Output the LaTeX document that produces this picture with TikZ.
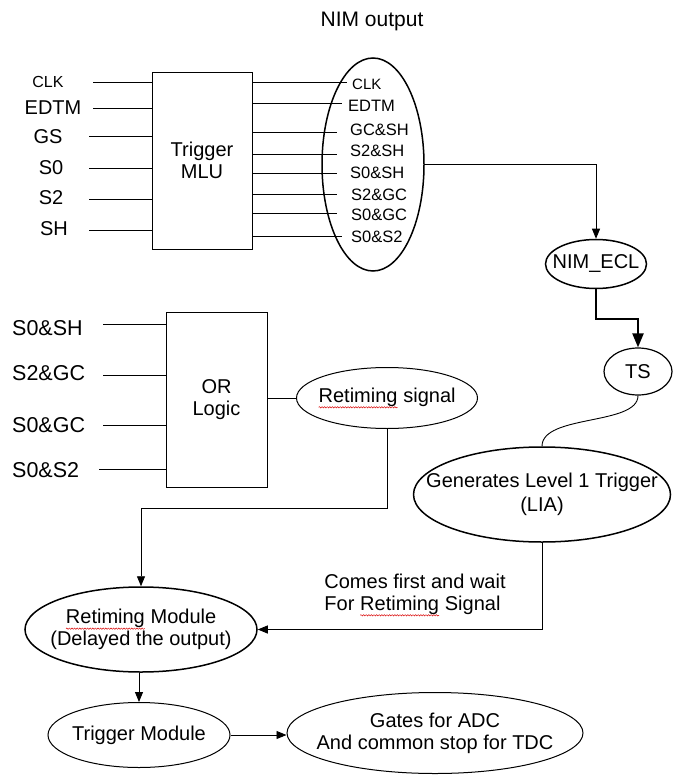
\documentclass[tikz,border=0pt]{standalone}
\usepackage{fontspec}
\setmainfont{Liberation Sans}
\usetikzlibrary{positioning, arrows.meta, shapes.geometric, decorations.pathmorphing}

% red wavy spell-check mark under a word
\newcommand{\wavy}[1]{\tikz[baseline=(w.base)]{\node[shape=rectangle, draw=none, inner sep=0pt, outer sep=0pt, minimum size=0pt] (w) {#1};\draw[red!85!black, line width=0.45pt, decorate, decoration={snake, amplitude=0.7pt, segment length=2.6pt}] ([yshift=-5pt]w.base west) -- ([yshift=-5pt]w.base east);}}

\begin{document}
\begin{tikzpicture}[
    x=1pt, y=-1pt,
    font=\fontsize{20}{22}\selectfont,
    block/.style={rectangle, draw=black, line width=0.9pt, inner sep=0pt},
    oval/.style={ellipse, draw=black, line width=1.5pt, inner sep=0pt},
    thinoval/.style={ellipse, draw=black, line width=1pt, inner sep=0pt},
    txt/.style={inner sep=0pt, align=center},
    outlbl/.style={inner sep=0pt, anchor=west, font=\fontsize{16.5}{19}\selectfont},
    wire/.style={draw=black, line width=0.9pt},
    sig_edge/.style={->, >={Triangle[length=10pt, width=8pt]}, line width=0.9pt, draw=black},
    ecl_edge/.style={->, >={Triangle[length=14pt, width=11pt]}, line width=2.2pt, draw=black}
]
\fill[white] (0,0) rectangle (672,775);
\useasboundingbox (0,0) rectangle (672,775);

\node[txt, font=\fontsize{21}{24}\selectfont] (nimtitle) at (372,21) {NIM output};

% Trigger MLU and its inputs
\node[block, minimum width=100pt, minimum height=177pt] (mlu) at (202,160.5) {};
\node[txt] (mlutext) at (mlu) {Trigger\\MLU};
\foreach \lx/\ty/\sx/\ly/\nm/\txt in {48/82/93/82/iclk/{\fontsize{16}{19}\selectfont CLK}, 53/108/93/108/iedtm/EDTM, 48/137/89/136/igs/GS, 51/168/89/168/iszero/S0, 51/198/89/199/istwo/S2, 54/229/89/230/ish/SH}
{
  \node[txt] (\nm) at (\lx,\ty) {\txt};
  \coordinate (\nm start) at (\sx,\ly);
  \draw[wire] (\nm start) -- (mlu.west |- \nm start);
}

% NIM outputs
\node[oval, minimum width=102pt, minimum height=213pt] (nimout) at (373,164.5) {};
\foreach \ly/\ty/\tx/\ex/\nm/\txt in {82/84/352/347/oclk/{\fontsize{15}{18}\selectfont CLK}, 103/106/348/342/oedtm/EDTM, 132/130/350/337/ogcsh/GC\&SH, 154/151/350/337/osts/S2\&SH, 173/173/350/337/osos/S0\&SH, 194/195/351/337/ostg/S2\&GC, 213/215/351/337/osog/S0\&GC, 236/237/351/342/osot/S0\&S2}
{
  \node[outlbl] (\nm) at (\tx,\ty) {\txt};
  \coordinate (\nm end) at (\ex,\ly);
  \draw[wire] (mlu.east |- \nm end) -- (\nm end);
}

% OR logic and its inputs
\node[block, minimum width=101pt, minimum height=175pt] (orlogic) at (216.5,399.5) {};
\node[txt] (ortext) at (orlogic) {OR\\Logic};
\foreach \ty/\sx/\ly/\nm/\txt in {328/103/324/rsosh/S0\&SH, 373/103/375/rstg/S2\&GC, 425/103/425/rsog/S0\&GC, 470/99/469/rsot/S0\&S2}
{
  \node[txt, anchor=west, font=\fontsize{21.5}{24}\selectfont] (\nm) at (12,\ty) {\txt};
  \coordinate (\nm start) at (\sx,\ly);
  \draw[wire] (\nm start) -- (orlogic.west |- \nm start);
}

\node[thinoval, minimum width=181pt, minimum height=61pt] (rsig) at (387,398) {};
\node[txt] (rsigtext) at (rsig) {\wavy{Retiming} signal};

% right-hand chain
\node[oval, minimum width=101pt, minimum height=49pt] (nimecl) at (596,264) {};
\node[txt] (nimecltext) at (nimecl) {NIM\_ECL};
\node[oval, line width=1.2pt, minimum width=68pt, minimum height=47pt] (ts) at (638,371.5) {};
\node[txt] (tstext) at (ts) {TS};
\node[oval, minimum width=257pt, minimum height=95pt] (lia) at (542,494.5) {};
\node[txt, font=\fontsize{20}{24}\selectfont] (liatext) at (lia) {Generates Level 1 Trigger\\(LIA)};

% bottom chain
\node[oval, minimum width=232pt, minimum height=85pt] (rmod) at (141,629.5) {};
\node[txt] (rmodtext) at (rmod) {\wavy{Retiming} Module\\(Delayed the output)};
\node[thinoval, minimum width=182pt, minimum height=65pt] (tmod) at (139,735) {};
\node[txt] (tmodtext) at (tmod) {Trigger Module};
\node[thinoval, minimum width=296pt, minimum height=81pt] (gates) at (435,733) {};
\node[txt] (gatestext) at (gates) {Gates for ADC\\And common stop for TDC};
\node[txt, align=left] (waitnote) at (415,595) {Comes first and wait\\For \wavy{Retiming} Signal};

\draw[wire] (orlogic.east |- rsig.west) -- (rsig.west);
\draw[sig_edge] (nimout.east) -| (nimecl.north);
\draw[ecl_edge] (nimecl.south) -- ++(0,30) -| (ts.north);
\draw[wire] (ts.south) .. controls ++(0,30) and ++(0,-32) .. (lia.north);
\draw[sig_edge] (rsig.south) -- ++(0,79.5) -| (rmod.north);
\draw[sig_edge] (lia.south) |- (rmod.east);
\draw[sig_edge] (rmod.south -| tmod.north) -- (tmod.north);
\draw[sig_edge] (tmod.east) -- (tmod.east -| gates.west);
\end{tikzpicture}
\end{document}
